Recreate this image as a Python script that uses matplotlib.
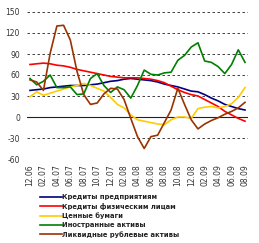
import matplotlib
matplotlib.use("Agg")
import matplotlib.pyplot as plt

months = ["12.06", "01.07", "02.07", "03.07", "04.07", "05.07", "06.07", "07.07", "08.07",
          "09.07", "10.07", "11.07", "12.07", "01.08", "02.08", "03.08", "04.08", "05.08",
          "06.08", "07.08", "08.08", "09.08", "10.08", "11.08", "12.08", "01.09", "02.09",
          "03.09", "04.09", "05.09", "06.09", "07.09", "08.09"]

corp_loans = [38, 39, 40, 42, 43, 44, 45, 45, 45, 46, 47, 49, 51, 52, 54, 55, 54, 53, 52, 50,
              47, 45, 43, 40, 37, 36, 32, 27, 23, 18, 15, 12, 10]
retail_loans = [75, 76, 77, 76, 74, 73, 71, 68, 66, 64, 62, 60, 58, 57, 56, 56, 56, 55, 54, 52,
                49, 44, 39, 35, 32, 30, 25, 20, 15, 8, 3, -2, -6]
securities = [29, 36, 31, 34, 37, 40, 43, 45, 48, 45, 41, 37, 28, 18, 13, 3, -4, -6, -8, -10,
              -11, -4, 0, 0, -2, 12, 14, 15, 13, 15, 19, 28, 42]
foreign_assets = [55, 46, 51, 60, 42, 42, 43, 32, 33, 55, 62, 45, 35, 43, 39, 27, 45, 67, 61, 60,
                  63, 64, 81, 88, 100, 106, 80, 78, 72, 62, 75, 96, 78]
liquid_rub = [53, 50, 38, 91, 130, 131, 110, 65, 32, 18, 20, 33, 41, 40, 25, -2, -28, -45, -28, -26,
              -8, 10, 41, 18, -4, -17, -10, -5, -1, 4, 8, 13, 21]

series = [
    ("Кредиты предприятиям", corp_loans, "#000080"),
    ("Кредиты физическим лицам", retail_loans, "#ff0000"),
    ("Ценные бумаги", securities, "#ffcc00"),
    ("Иностранные активы", foreign_assets, "#008000"),
    ("Ликвидные рублевые активы", liquid_rub, "#993300"),
]

yticks = [-60, -30, 0, 30, 60, 90, 120, 150]

W, H = 259, 243
fig = plt.figure(figsize=(W / 100, H / 100), dpi=100)
ax = fig.add_axes([27 / W, (H - 159) / H, (248 - 27) / W, (159 - 12) / H])

x = list(range(len(months)))
lines = []
for name, vals, col in series:
    ln, = ax.plot(x, vals, color=col, lw=1.2, label=name)
    lines.append(ln)

for v in yticks:
    if v == 0:
        ax.axhline(v, color="#222222", lw=0.8, zorder=0.5)
    else:
        ax.axhline(v, color="#222222", lw=0.6, ls=(0, (3, 3)), zorder=0.5)

ax.set_ylim(-60, 150)
n = len(months) - 1
pad = 3 / ((245 - 30) / n)
ax.set_xlim(-pad, n + pad)
ax.set_yticks(yticks)
ax.set_yticklabels([str(v) for v in yticks], fontsize=5.5, color="#333333")
ax.set_xticks(x[::2])
ax.set_xticklabels(months[::2], rotation=90, fontsize=5.5, color="#333333")
ax.tick_params(length=0)
ax.tick_params(axis="y", pad=5)
ax.tick_params(axis="x", pad=4)
for s in ax.spines.values():
    s.set_visible(False)

leg = fig.legend(handles=lines, loc="upper left", bbox_to_anchor=(40 / W, 1 - 194 / H),
                 frameon=False, prop={"size": 4.9, "weight": "bold"},
                 handlelength=3.2, handletextpad=0.1, labelspacing=0.42, borderpad=0,
                 borderaxespad=0)
for t in leg.get_texts():
    t.set_color("#222222")

fig.savefig("out.png", dpi=100)
